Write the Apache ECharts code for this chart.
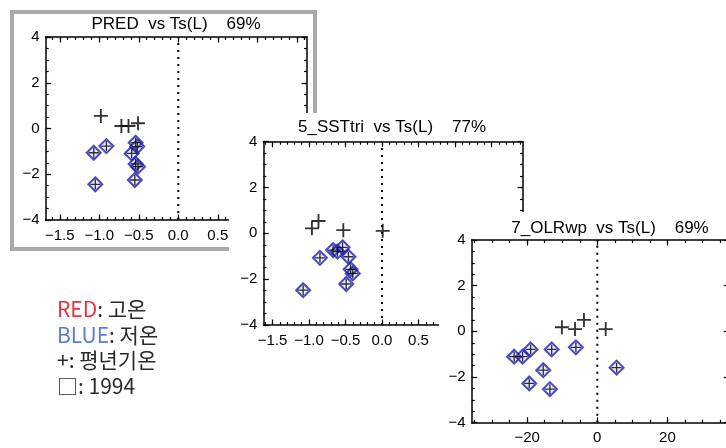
<!DOCTYPE html>
<html><head><meta charset="utf-8">
<script src="https://cdn.jsdelivr.net/npm/echarts@6/dist/echarts.min.js"></script>
<style>html,body{margin:0;padding:0;background:#fff}#c{width:726px;height:448px}</style>
</head><body><div id="c"></div>
<script>
// ---------- Data ----------
// Panel 1: PRED vs Ts(L)
const p1Title = 'PRED  vs Ts(L)    69%';
const p1NormalX = [-0.98, -0.72, -0.63, -0.51];
const p1NormalY = [0.55, 0.11, 0.11, 0.23];
const p1ColdX = [-1.07, -0.91, -1.05, -0.59, -0.54, -0.52, -0.54, -0.51, -0.55];
const p1ColdY = [-1.06, -0.77, -2.44, -1.09, -0.62, -0.79, -1.55, -1.67, -2.25];

// Panel 2: 5_SSTtri vs Ts(L)
const p2Title = '5_SSTtri  vs Ts(L)    77%';
const p2NormalX = [-0.96, -0.87, -0.53, 0.01];
const p2NormalY = [0.22, 0.54, 0.14, 0.11];
const p2ColdX = [-1.08, -0.85, -0.67, -0.61, -0.54, -0.46, -0.43, -0.40, -0.49];
const p2ColdY = [-2.48, -1.07, -0.73, -0.80, -0.61, -1.02, -1.57, -1.75, -2.21];

// Panel 3: 7_OLRwp vs Ts(L)
const p3Title = '7_OLRwp  vs Ts(L)    69%';
const p3NormalX = [-10.1, -6.35, -3.8, 2.4];
const p3NormalY = [0.18, 0.10, 0.50, 0.10];
const p3ColdX = [-23.7, -21.3, -19.0, -13.0, -6.1, -15.4, -19.4, -13.5, 5.5];
const p3ColdY = [-1.11, -1.11, -0.79, -0.79, -0.70, -1.70, -2.28, -2.53, -1.59];

// Tick labels
const fracMajorTicks = [-1.5, -1.0, -0.5, 0.0, 0.5, 1.0, 1.5];
const olrMajorTicks = [-20, 0, 20];
const tsMajorTicks = [-4, -2, 0, 2, 4];

// Legend text
const legendLines = ['{r|RED}: 고온', '{b|BLUE}: 저온', '+: 평년기온', '□: 1994'];

// ---------- helpers ----------
function steps(min, max, step) {
  const out = [];
  const s = Math.ceil(min / step - 1e-9), e = Math.floor(max / step + 1e-9);
  for (let i = s; i <= e; i++) out.push(Math.round(i * step * 1000) / 1000);
  return out;
}
const minus = s => s.replace('-', '\u2212');
const zip = (a, b) => a.map((v, i) => [v, b[i]]);
const PLUS = 'path://M0,5.2H12V6.8H0Z M5.2,0H6.8V12H5.2Z';
const FONT = '"Liberation Sans", Arial, sans-serif';
const KFONT = '"Noto Sans CJK KR", sans-serif';

const panels = [
  { grid: {left: 45.7, top: 37, width: 261.3, height: 183}, xMin: -1.678, xMax: 1.629,
    xMajor: fracMajorTicks, xMinorStep: 0.1, xDec: 1,
    nx: p1NormalX, ny: p1NormalY, cx: p1ColdX, cy: p1ColdY, title: p1Title, tx: 176, ty: 24 },
  { grid: {left: 263.3, top: 141.7, width: 259.7, height: 183.3}, xMin: -1.626, xMax: 1.932,
    xMajor: fracMajorTicks, xMinorStep: 0.1, xDec: 1,
    nx: p2NormalX, ny: p2NormalY, cx: p2ColdX, cy: p2ColdY, title: p2Title, tx: 392, ty: 127 },
  { grid: {left: 471.7, top: 240, width: 257.5, height: 182.7}, xMin: -35.8, xMax: 37.6,
    xMajor: olrMajorTicks, xMinorStep: 5, xDec: 0,
    nx: p3NormalX, ny: p3NormalY, cx: p3ColdX, cy: p3ColdY, title: p3Title, tx: 610, ty: 228 }
];

const grids = [], xAxes = [], yAxes = [], series = [], graphics = [];

// background boxes
graphics.push({type: 'rect', zlevel: 0, z: 0, shape: {x: 12, y: 12, width: 303, height: 237},
  style: {fill: '#fff', stroke: '#a9a9a9', lineWidth: 4}});
graphics.push({type: 'rect', zlevel: 1, z: 0, shape: {x: 229, y: 113, width: 310, height: 243},
  style: {fill: '#fff'}});
graphics.push({type: 'rect', zlevel: 2, z: 0, shape: {x: 439, y: 212, width: 290, height: 240},
  style: {fill: '#fff'}});

panels.forEach((p, gi) => {
  const zl = gi;
  grids.push(Object.assign({show: false, containLabel: false, outerBoundsMode: 'none'}, p.grid));
  const xMinor = steps(p.xMin, p.xMax, p.xMinorStep);
  const yMinor = steps(-4, 4, 0.5);
  const xIdx = xAxes.length, yIdx = yAxes.length;
  const mk = (dim, pos, major, withLabel) => {
    const isX = dim === 'x';
    return {
      type: 'value', gridIndex: gi, position: pos, zlevel: zl, z: 5,
      min: isX ? p.xMin : -4, max: isX ? p.xMax : 4,
      axisLine: {show: major, onZero: false, lineStyle: {color: '#000', width: 1.5}},
      axisTick: {show: true, inside: true, length: major ? 5.5 : 3,
        customValues: major ? (isX ? p.xMajor : tsMajorTicks) : (isX ? xMinor : yMinor),
        lineStyle: {color: '#000', width: 1.2}},
      axisLabel: {show: withLabel, customValues: isX ? p.xMajor : tsMajorTicks,
        margin: isX ? 8 : 6, color: '#000', fontSize: 15, fontFamily: FONT,
        formatter: v => isX ? minus(Number(v).toFixed(p.xDec)) : minus(String(Math.round(v)))},
      splitLine: {show: false}
    };
  };
  xAxes.push(mk('x', 'bottom', true, true), mk('x', 'bottom', false, false),
             mk('x', 'top', true, false), mk('x', 'top', false, false));
  yAxes.push(mk('y', 'left', true, true), mk('y', 'left', false, false),
             mk('y', 'right', true, false), mk('y', 'right', false, false));

  series.push({type: 'line', xAxisIndex: xIdx, yAxisIndex: yIdx, zlevel: zl, z: 3,
    data: [[0, -4], [0, 4]], symbol: 'none', silent: true,
    lineStyle: {color: '#000', width: 2, type: [2, 5]}});
  series.push({type: 'scatter', xAxisIndex: xIdx, yAxisIndex: yIdx, zlevel: zl, z: 4,
    data: zip(p.cx, p.cy), symbol: 'diamond', symbolSize: 14,
    itemStyle: {color: 'rgba(110,125,235,0.2)', borderColor: '#1e1eb0', borderWidth: 2}});
  series.push({type: 'scatter', xAxisIndex: xIdx, yAxisIndex: yIdx, zlevel: zl, z: 6,
    data: zip(p.cx, p.cy), symbol: PLUS, symbolSize: 10, itemStyle: {color: '#000'}});
  series.push({type: 'scatter', xAxisIndex: xIdx, yAxisIndex: yIdx, zlevel: zl, z: 6,
    data: zip(p.nx, p.ny), symbol: PLUS, symbolSize: 14, itemStyle: {color: '#000'}});

  graphics.push({type: 'text', zlevel: zl, z: 7, x: p.tx, y: p.ty,
    style: {text: p.title, fill: '#000', font: '17px ' + FONT, align: 'center', verticalAlign: 'middle'}});
});

legendLines.forEach((t, i) => {
  graphics.push({type: 'text', zlevel: 0, z: 7, x: 57, y: 309 + i * 25.7,
    style: {text: t, fill: '#2a2a2a', fontSize: 21, fontFamily: KFONT,
      verticalAlign: 'middle', align: 'left',
      rich: {r: {fill: '#e5343d', fontSize: 21, fontFamily: KFONT},
             b: {fill: '#5a7dcf', fontSize: 21, fontFamily: KFONT}}}});
});

const chart = echarts.init(document.getElementById('c'), null, {renderer: 'canvas'});
chart.setOption({
  backgroundColor: '#fff', animation: false,
  grid: grids, xAxis: xAxes, yAxis: yAxes, series: series, graphic: {elements: graphics}
});
</script></body></html>
